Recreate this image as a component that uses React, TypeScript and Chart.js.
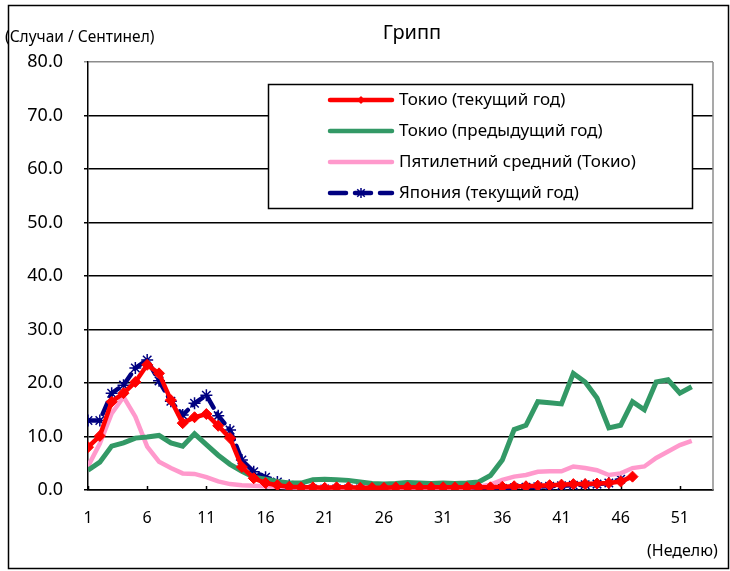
import React, { useEffect, useRef } from 'react';
import { Chart, registerables } from 'chart.js';

Chart.register(...registerables);

// ---------- data ----------
const weeks = [
  1, 2, 3, 4, 5, 6, 7, 8, 9, 10, 11, 12, 13, 14, 15, 16, 17, 18, 19, 20, 21, 22, 23, 24, 25, 26,
  27, 28, 29, 30, 31, 32, 33, 34, 35, 36, 37, 38, 39, 40, 41, 42, 43, 44, 45, 46, 47, 48, 49, 50, 51, 52,
];
const xTickWeeks = [1, 6, 11, 16, 21, 26, 31, 36, 41, 46, 51];

const chartTitle = 'Грипп';
const yUnitLabel = '(Случаи / Сентинел)';
const xUnitLabel = '(Неделю)';
const seriesNames = [
  'Токио (текущий год)',
  'Токио (предыдущий год)',
  'Пятилетний средний (Токио)',
  'Япония (текущий год)',
];

const tokyoCurrent = [
  8.0, 10.1, 16.5, 18.1, 20.2, 23.4, 21.8, 16.8, 12.5, 13.6, 14.2, 12.0, 9.7, 4.3, 2.2, 1.3, 0.9, 0.6,
  0.5, 0.5, 0.4, 0.5, 0.5, 0.4, 0.4, 0.4, 0.5, 0.5, 0.5, 0.5, 0.5, 0.5, 0.5, 0.5, 0.5, 0.6, 0.7, 0.7,
  0.8, 0.9, 1.0, 1.1, 1.1, 1.2, 1.3, 1.6, 2.5,
];
const tokyoPrevious = [
  3.7, 5.2, 8.2, 8.8, 9.7, 9.9, 10.2, 8.8, 8.2, 10.5, 8.5, 6.5, 4.8, 3.5, 2.4, 2.0, 1.6, 1.3, 1.3, 1.9,
  2.0, 1.9, 1.8, 1.5, 1.2, 1.1, 1.2, 1.4, 1.3, 1.2, 1.3, 1.2, 1.3, 1.5, 2.7, 5.6, 11.3, 12.1, 16.5,
  16.3, 16.1, 21.8, 20.2, 17.2, 11.6, 12.1, 16.5, 15.0, 20.2, 20.6, 18.1, 19.3,
];
const fiveYearAvg = [
  4.4, 8.7, 14.3, 17.4, 13.7, 8.1, 5.3, 4.1, 3.1, 3.0, 2.4, 1.6, 1.1, 0.9, 0.8, 0.7, 0.6, 0.5, 0.4,
  0.4, 0.4, 0.4, 0.4, 0.4, 0.4, 0.4, 0.4, 0.4, 0.4, 0.4, 0.4, 0.4, 0.4, 0.6, 1.0, 1.9, 2.5, 2.8, 3.4,
  3.5, 3.5, 4.4, 4.1, 3.7, 2.8, 3.1, 4.1, 4.4, 6.0, 7.2, 8.4, 9.2,
];
const japanCurrent = [
  13.0, 13.0, 18.1, 19.6, 22.8, 24.3, 20.4, 16.6, 14.0, 16.2, 17.7, 13.9, 11.2, 5.6, 3.4, 2.4, 1.5,
  0.9, 0.5, 0.2, 0.2, 0.2, 0.2, 0.2, 0.2, 0.2, 0.2, 0.2, 0.2, 0.2, 0.2, 0.2, 0.2, 0.2, 0.2, 0.3, 0.4,
  0.5, 0.6, 0.7, 0.8, 0.9, 1.0, 1.1, 1.3, 2.0,
];

// ---------- styles ----------
const FONT = '"Noto Sans", sans-serif';
const RED = '#FF0000';
const GREEN = '#339966';
const PINK = '#FF99CC';
const NAVY = '#000080';
const BLUE_DASH = [12, 7];

const toPoints = (vals: number[]) => vals.map((v, i) => ({ x: weeks[i], y: v }));

function drawDiamond(ctx: CanvasRenderingContext2D, x: number, y: number, r: number, color: string) {
  ctx.save();
  ctx.fillStyle = color;
  ctx.beginPath();
  ctx.moveTo(x, y - r);
  ctx.lineTo(x + r, y);
  ctx.lineTo(x, y + r);
  ctx.lineTo(x - r, y);
  ctx.closePath();
  ctx.fill();
  ctx.restore();
}

function drawStar(ctx: CanvasRenderingContext2D, x: number, y: number, r: number, color: string) {
  ctx.save();
  ctx.strokeStyle = color;
  ctx.lineWidth = 1.5;
  ctx.setLineDash([]);
  ctx.beginPath();
  const d = r * 0.75;
  ctx.moveTo(x - d, y - d);
  ctx.lineTo(x + d, y + d);
  ctx.moveTo(x - d, y + d);
  ctx.lineTo(x + d, y - d);
  ctx.moveTo(x, y - r);
  ctx.lineTo(x, y + r);
  ctx.stroke();
  ctx.restore();
}

const decorPlugin = {
  id: 'decor',
  beforeDatasetsDraw(chart: any) {
    const { ctx, chartArea, scales } = chart;
    ctx.save();
    // inner tick marks on x axis
    ctx.strokeStyle = '#000';
    ctx.lineWidth = 1.5;
    ctx.beginPath();
    xTickWeeks.forEach((w) => {
      const px = Math.round(scales.x.getPixelForValue(w)) + 0.5;
      ctx.moveTo(px, chartArea.bottom);
      ctx.lineTo(px, chartArea.bottom - 4);
    });
    ctx.stroke();
    // right plot border (gray)
    ctx.strokeStyle = '#8c8c8c';
    ctx.lineWidth = 1.5;
    ctx.beginPath();
    ctx.moveTo(chartArea.right, chartArea.top);
    ctx.lineTo(chartArea.right, chartArea.bottom);
    ctx.stroke();
    ctx.restore();
  },
  afterDatasetsDraw(chart: any) {
    const { ctx } = chart;
    ctx.save();
    // legend box
    const lx = 268.5;
    const ly = 84.5;
    const lw = 424;
    const lh = 124;
    ctx.fillStyle = '#fff';
    ctx.fillRect(lx, ly, lw, lh);
    ctx.strokeStyle = '#000';
    ctx.lineWidth = 1.5;
    ctx.strokeRect(lx, ly, lw, lh);
    const rows = [100, 131, 162, 193];
    chart.data.datasets.forEach((ds: any, i: number) => {
      const y = rows[i];
      ctx.save();
      ctx.strokeStyle = ds.borderColor;
      ctx.lineWidth = 4.5;
      ctx.lineCap = 'round';
      if (ds.borderDash && ds.borderDash.length) ctx.setLineDash([16, 9]);
      ctx.beginPath();
      ctx.moveTo(330, y);
      ctx.lineTo(392, y);
      ctx.stroke();
      ctx.restore();
      if (ds.pointStyle === 'rectRot') drawDiamond(ctx, 361, y, 4, ds.borderColor);
      if (ds.pointStyle === 'star') drawStar(ctx, 361, y, 5, ds.borderColor);
      ctx.fillStyle = '#000';
      ctx.font = `17px ${FONT}`;
      ctx.textAlign = 'left';
      ctx.textBaseline = 'middle';
      ctx.fillText(ds.label, 399, y);
    });
    ctx.restore();
  },
  afterDraw(chart: any) {
    const { ctx } = chart;
    ctx.save();
    ctx.fillStyle = '#000';
    ctx.textBaseline = 'middle';
    ctx.font = `20px ${FONT}`;
    ctx.textAlign = 'center';
    ctx.fillText(chartTitle, 412, 33);
    ctx.font = `15.5px ${FONT}`;
    ctx.textAlign = 'left';
    ctx.fillText(yUnitLabel, 5, 38);
    ctx.font = `16px ${FONT}`;
    ctx.fillText(xUnitLabel, 647, 551);
    // outer frame
    ctx.strokeStyle = '#000';
    ctx.lineWidth = 1.5;
    ctx.strokeRect(8.5, 5.5, 720, 563);
    ctx.restore();
  },
};

export default function App() {
  const ref = useRef<HTMLCanvasElement | null>(null);

  useEffect(() => {
    if (!ref.current) return;
    const chart = new Chart(ref.current, {
      type: 'line',
      data: {
        datasets: [
          {
            label: seriesNames[0],
            data: toPoints(tokyoCurrent),
            borderColor: RED,
            backgroundColor: RED,
            borderWidth: 4.5,
            pointStyle: 'rectRot',
            pointRadius: 5.5,
            pointBorderWidth: 1,
            pointBackgroundColor: RED,
            pointBorderColor: RED,
            tension: 0,
          },
          {
            label: seriesNames[1],
            data: toPoints(tokyoPrevious),
            borderColor: GREEN,
            backgroundColor: GREEN,
            borderWidth: 5,
            pointRadius: 0,
            tension: 0,
          },
          {
            label: seriesNames[2],
            data: toPoints(fiveYearAvg),
            borderColor: PINK,
            backgroundColor: PINK,
            borderWidth: 4.5,
            pointRadius: 0,
            tension: 0,
          },
          {
            label: seriesNames[3],
            data: toPoints(japanCurrent),
            borderColor: NAVY,
            backgroundColor: NAVY,
            borderWidth: 4.5,
            borderDash: BLUE_DASH,
            borderCapStyle: 'round',
            pointStyle: 'star',
            pointRadius: 6,
            pointBorderWidth: 1.5,
            pointBorderColor: NAVY,
            pointBackgroundColor: NAVY,
            tension: 0,
          },
        ],
      },
      options: {
        responsive: false,
        animation: false,
        events: [],
        devicePixelRatio: 1,
        layout: { padding: { top: 62, right: 17, left: 0, bottom: 0 } },
        plugins: {
          legend: { display: false },
          title: { display: false },
          tooltip: { enabled: false },
        },
        scales: {
          x: {
            type: 'linear',
            min: 1,
            max: 53.8,
            afterBuildTicks: (scale: any) => {
              scale.ticks = xTickWeeks.map((v) => ({ value: v }));
            },
            afterFit: (scale: any) => {
              scale.height = 81;
            },
            grid: { display: false },
            border: { display: true, color: '#000', width: 1.5 },
            ticks: {
              autoSkip: false,
              maxRotation: 0,
              padding: 11,
              color: '#000',
              font: { family: FONT, size: 16 },
              callback: (v: any) => String(v),
            },
          },
          y: {
            min: 0,
            max: 80,
            afterFit: (scale: any) => {
              scale.width = 88;
            },
            grid: {
              color: (c: any) => (c.tick && c.tick.value === 80 ? '#8c8c8c' : '#000'),
              lineWidth: 1.5,
              drawTicks: true,
              tickLength: 4,
            },
            border: { display: true, color: '#000', width: 1.5 },
            ticks: {
              stepSize: 10,
              padding: 21,
              color: '#000',
              font: { family: FONT, size: 18 },
              callback: (v: any) => Number(v).toFixed(1),
            },
          },
        },
      },
      plugins: [decorPlugin],
    } as any);
    return () => chart.destroy();
  }, []);

  return (
    <div style={{ position: 'absolute', left: 0, top: 0, width: 730, height: 571, background: '#fff' }}>
      <canvas ref={ref} width={730} height={571} style={{ display: 'block' }} />
    </div>
  );
}
